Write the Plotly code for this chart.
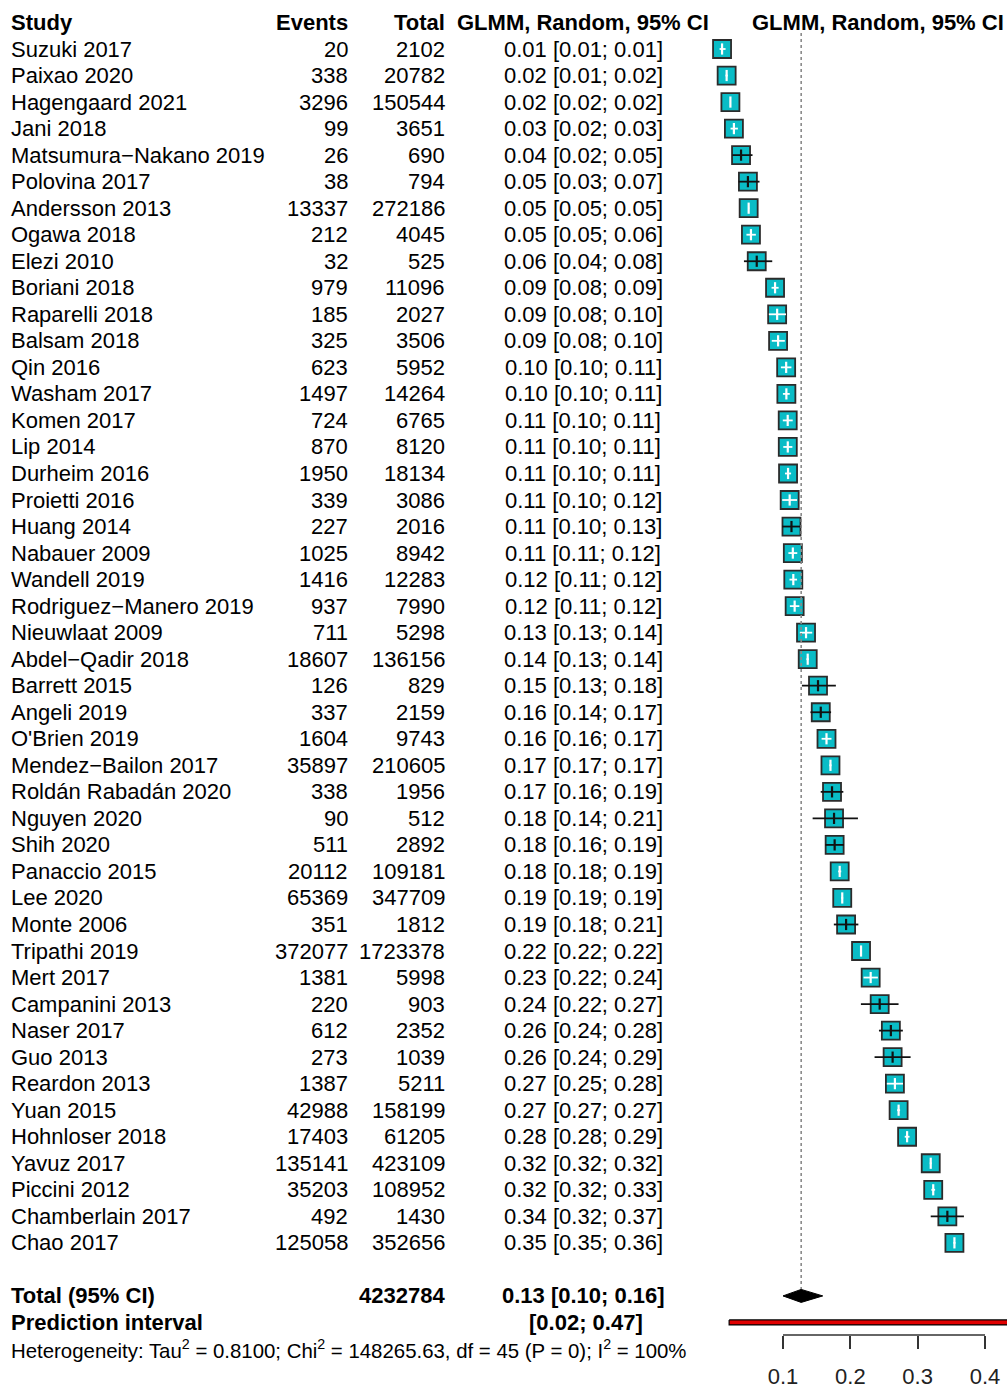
import plotly.graph_objects as go

studies = ["Suzuki 2017", "Paixao 2020", "Hagengaard 2021", "Jani 2018", "Matsumura\u2212Nakano 2019",
           "Polovina 2017", "Andersson 2013", "Ogawa 2018", "Elezi 2010", "Boriani 2018",
           "Raparelli 2018", "Balsam 2018", "Qin 2016", "Washam 2017", "Komen 2017",
           "Lip 2014", "Durheim 2016", "Proietti 2016", "Huang 2014", "Nabauer 2009",
           "Wandell 2019", "Rodriguez\u2212Manero 2019", "Nieuwlaat 2009", "Abdel\u2212Qadir 2018", "Barrett 2015",
           "Angeli 2019", "O'Brien 2019", "Mendez\u2212Bailon 2017", "Rold\u00e1n Rabad\u00e1n 2020", "Nguyen 2020",
           "Shih 2020", "Panaccio 2015", "Lee 2020", "Monte 2006", "Tripathi 2019",
           "Mert 2017", "Campanini 2013", "Naser 2017", "Guo 2013", "Reardon 2013",
           "Yuan 2015", "Hohnloser 2018", "Yavuz 2017", "Piccini 2012", "Chamberlain 2017",
           "Chao 2017"]
events = [20, 338, 3296, 99, 26, 38, 13337, 212, 32, 979, 185, 325, 623, 1497, 724, 870, 1950, 339, 227, 1025,
          1416, 937, 711, 18607, 126, 337, 1604, 35897, 338, 90, 511, 20112, 65369, 351, 372077, 1381, 220, 612,
          273, 1387, 42988, 17403, 135141, 35203, 492, 125058]
totals = [2102, 20782, 150544, 3651, 690, 794, 272186, 4045, 525, 11096, 2027, 3506, 5952, 14264, 6765, 8120,
          18134, 3086, 2016, 8942, 12283, 7990, 5298, 136156, 829, 2159, 9743, 210605, 1956, 512, 2892, 109181,
          347709, 1812, 1723378, 5998, 903, 2352, 1039, 5211, 158199, 61205, 423109, 108952, 1430, 352656]
ci_text = ["0.01 [0.01; 0.01]", "0.02 [0.01; 0.02]", "0.02 [0.02; 0.02]", "0.03 [0.02; 0.03]", "0.04 [0.02; 0.05]",
           "0.05 [0.03; 0.07]", "0.05 [0.05; 0.05]", "0.05 [0.05; 0.06]", "0.06 [0.04; 0.08]", "0.09 [0.08; 0.09]",
           "0.09 [0.08; 0.10]", "0.09 [0.08; 0.10]", "0.10 [0.10; 0.11]", "0.10 [0.10; 0.11]", "0.11 [0.10; 0.11]",
           "0.11 [0.10; 0.11]", "0.11 [0.10; 0.11]", "0.11 [0.10; 0.12]", "0.11 [0.10; 0.13]", "0.11 [0.11; 0.12]",
           "0.12 [0.11; 0.12]", "0.12 [0.11; 0.12]", "0.13 [0.13; 0.14]", "0.14 [0.13; 0.14]", "0.15 [0.13; 0.18]",
           "0.16 [0.14; 0.17]", "0.16 [0.16; 0.17]", "0.17 [0.17; 0.17]", "0.17 [0.16; 0.19]", "0.18 [0.14; 0.21]",
           "0.18 [0.16; 0.19]", "0.18 [0.18; 0.19]", "0.19 [0.19; 0.19]", "0.19 [0.18; 0.21]", "0.22 [0.22; 0.22]",
           "0.23 [0.22; 0.24]", "0.24 [0.22; 0.27]", "0.26 [0.24; 0.28]", "0.26 [0.24; 0.29]", "0.27 [0.25; 0.28]",
           "0.27 [0.27; 0.27]", "0.28 [0.28; 0.29]", "0.32 [0.32; 0.32]", "0.32 [0.32; 0.33]", "0.34 [0.32; 0.37]",
           "0.35 [0.35; 0.36]"]
# proportion estimates and 95% CI read/estimated with more precision than the printed values
est = [0.0095, 0.0163, 0.0219, 0.0271, 0.0377, 0.0479, 0.0490, 0.0524, 0.0610, 0.0882,
       0.0913, 0.0927, 0.1047, 0.1050, 0.1070, 0.1071, 0.1075, 0.1099, 0.1126, 0.1146,
       0.1153, 0.1173, 0.1342, 0.1367, 0.1520, 0.1561, 0.1646, 0.1705, 0.1728, 0.1758,
       0.1767, 0.1842, 0.1880, 0.1937, 0.2159, 0.2302, 0.2436, 0.2602, 0.2628, 0.2662,
       0.2717, 0.2843, 0.3194, 0.3231, 0.3441, 0.3546]
lo = [0.0058, 0.0146, 0.0212, 0.0221, 0.0248, 0.0340, 0.0482, 0.0457, 0.0420, 0.0830,
      0.0790, 0.0833, 0.0969, 0.0999, 0.0997, 0.1004, 0.1030, 0.0988, 0.0988, 0.1080,
      0.1096, 0.1102, 0.1250, 0.1348, 0.1281, 0.1408, 0.1573, 0.1688, 0.1560, 0.1440,
      0.1628, 0.1819, 0.1867, 0.1755, 0.2153, 0.2196, 0.2157, 0.2425, 0.2360, 0.2542,
      0.2695, 0.2808, 0.3180, 0.3203, 0.3194, 0.3530]
hi = [0.0147, 0.0180, 0.0226, 0.0330, 0.0547, 0.0651, 0.0498, 0.0597, 0.0840, 0.0935,
      0.1045, 0.1027, 0.1125, 0.1100, 0.1144, 0.1139, 0.1120, 0.1209, 0.1271, 0.1212,
      0.1209, 0.1243, 0.1434, 0.1385, 0.1785, 0.1714, 0.1720, 0.1721, 0.1896, 0.2113,
      0.1906, 0.1865, 0.1893, 0.2119, 0.2165, 0.2409, 0.2716, 0.2780, 0.2895, 0.2782,
      0.2739, 0.2879, 0.3208, 0.3259, 0.3687, 0.3562]

pooled_total = 4232784
pooled = [0.127, 0.100, 0.159]        # estimate, lower, upper
pooled_text = "0.13 [0.10; 0.16]"
pred_interval = [0.02, 0.47]
pred_text = "[0.02; 0.47]"
het_text = ("Heterogeneity: Tau<sup>2</sup> = 0.8100; Chi<sup>2</sup> = 148265.63, "
            "df = 45 (P = 0); I<sup>2</sup> = 100%")
tick_vals = [0.1, 0.2, 0.3, 0.4]
col_header = "GLMM, Random, 95% CI"

# ---------------- layout constants ----------------
W, H = 1007, 1388
ROW0_PX, PITCH = 49.0, 26.53
X_DOMAIN = [0.7, 1.0]
PX_PER_UNIT = 202.0 / 0.3
x_left = 0.1 - (783 - X_DOMAIN[0] * W) / PX_PER_UNIT
x_right = 0.1 + (W - 783) / PX_PER_UNIT
y_top = -ROW0_PX / PITCH
y_bot = (H - ROW0_PX) / PITCH
AXIS_PX = 1335

FONT = "Liberation Sans, Arial, Helvetica, sans-serif"
FS = 22
CYAN = "#0ABCC6"
BORDER = "#2b2b2b"
BOX = 18
half_box = (BOX / 2) / PX_PER_UNIT

n = len(studies)
rows = list(range(n))
row_total, row_pred, row_het = n + 1, n + 2, n + 3

fig = go.Figure()

# boxes
fig.add_trace(go.Scatter(x=est, y=rows, mode="markers", xaxis="x", yaxis="y",
                         marker=dict(symbol="square", size=BOX, color=CYAN,
                                     line=dict(color=BORDER, width=1.8)),
                         hoverinfo="skip"))

# CI lines: white when inside the box, black otherwise
wx, wy, bx, by = [], [], [], []
wtx, wty, btx, bty = [], [], [], []
for i in range(n):
    outside = (est[i] - lo[i]) > half_box or (hi[i] - est[i]) > half_box
    if outside:
        bx += [lo[i], hi[i], None]; by += [i, i, None]
        btx.append(est[i]); bty.append(i)
    else:
        wx += [lo[i], hi[i], None]; wy += [i, i, None]
        wtx.append(est[i]); wty.append(i)
fig.add_trace(go.Scatter(x=wx, y=wy, mode="lines", line=dict(color="white", width=1.8), hoverinfo="skip"))
fig.add_trace(go.Scatter(x=bx, y=by, mode="lines", line=dict(color="#111111", width=1.8), hoverinfo="skip"))
fig.add_trace(go.Scatter(x=wtx, y=wty, mode="markers",
                         marker=dict(symbol="line-ns", size=8, line=dict(color="white", width=2.2)),
                         hoverinfo="skip"))
fig.add_trace(go.Scatter(x=btx, y=bty, mode="markers",
                         marker=dict(symbol="line-ns", size=8, line=dict(color="#111111", width=2.2)),
                         hoverinfo="skip"))

# pooled estimate dotted line
fig.add_trace(go.Scatter(x=[pooled[0], pooled[0]], y=[-0.6, row_total - 0.25], mode="lines",
                         line=dict(color="#8a8a8a", width=1.6, dash="dot"), hoverinfo="skip"))

# diamond
dh = 0.245
fig.add_trace(go.Scatter(x=[pooled[1], pooled[0], pooled[2], pooled[0], pooled[1]],
                         y=[row_total, row_total - dh, row_total, row_total + dh, row_total],
                         mode="lines", fill="toself", fillcolor="black",
                         line=dict(color="black", width=1), hoverinfo="skip"))

# prediction interval bar
ph = 0.095
fig.add_trace(go.Scatter(x=[pred_interval[0], pred_interval[1], pred_interval[1], pred_interval[0], pred_interval[0]],
                         y=[row_pred - ph, row_pred - ph, row_pred + ph, row_pred + ph, row_pred - ph],
                         mode="lines", fill="toself", fillcolor="#E00000",
                         line=dict(color="black", width=1.2), hoverinfo="skip"))

annotations = []


def txt(x_px, y, text, anchor, bold=False, size=FS):
    annotations.append(dict(x=x_px / W, xref="paper", y=y, yref="y", text=(f"<b>{text}</b>" if bold else text),
                            showarrow=False, xanchor=anchor, yanchor="middle",
                            font=dict(family=FONT, size=size, color="black")))


COL_STUDY, COL_EVENTS, COL_TOTAL, COL_CI, COL_FOREST_HDR = 9, 350, 447, 583, 878

# headers
txt(COL_STUDY, -1, "Study", "left", True)
txt(COL_EVENTS, -1, "Events", "right", True)
txt(COL_TOTAL, -1, "Total", "right", True)
txt(COL_CI, -1, col_header, "center", True)
txt(COL_FOREST_HDR, -1, col_header, "center", True)

for i in range(n):
    txt(COL_STUDY, i, studies[i], "left")
    txt(COL_EVENTS, i, str(events[i]), "right")
    txt(COL_TOTAL, i, str(totals[i]), "right")
    txt(COL_CI, i, ci_text[i], "center")

txt(COL_STUDY, row_total, "Total (95% CI)", "left", True)
txt(COL_TOTAL, row_total, str(pooled_total), "right", True)
txt(COL_CI, row_total, pooled_text, "center", True)
txt(COL_STUDY, row_pred, "Prediction interval", "left", True)
txt(COL_CI + 3, row_pred, pred_text, "center", True)
txt(COL_STUDY, row_het, het_text, "left", size=20.4)

axis_pos = 1 - AXIS_PX / H
shapes = [dict(type="line", xref="x", yref="paper", x0=min(tick_vals), x1=max(tick_vals),
               y0=axis_pos, y1=axis_pos, line=dict(color="#333333", width=1.5))]

fig.update_layout(
    width=W, height=H, margin=dict(l=0, r=0, t=0, b=0),
    paper_bgcolor="white", plot_bgcolor="white", showlegend=False,
    annotations=annotations, shapes=shapes,
    xaxis=dict(domain=X_DOMAIN, range=[x_left, x_right], anchor="free", position=axis_pos,
               showgrid=False, zeroline=False, showline=False, tickvals=tick_vals,
               ticktext=[f"{v:.1f}" for v in tick_vals], ticks="outside", ticklen=13,
               tickwidth=1.5, tickcolor="#333333", ticklabelstandoff=9,
               tickfont=dict(family=FONT, size=FS, color="#222222")),
    yaxis=dict(domain=[0, 1], range=[y_bot, y_top], visible=False, showgrid=False, zeroline=False),
)

fig.write_html("out.html", config={"displayModeBar": False},
               post_script="document.body.style.margin='0px';")
